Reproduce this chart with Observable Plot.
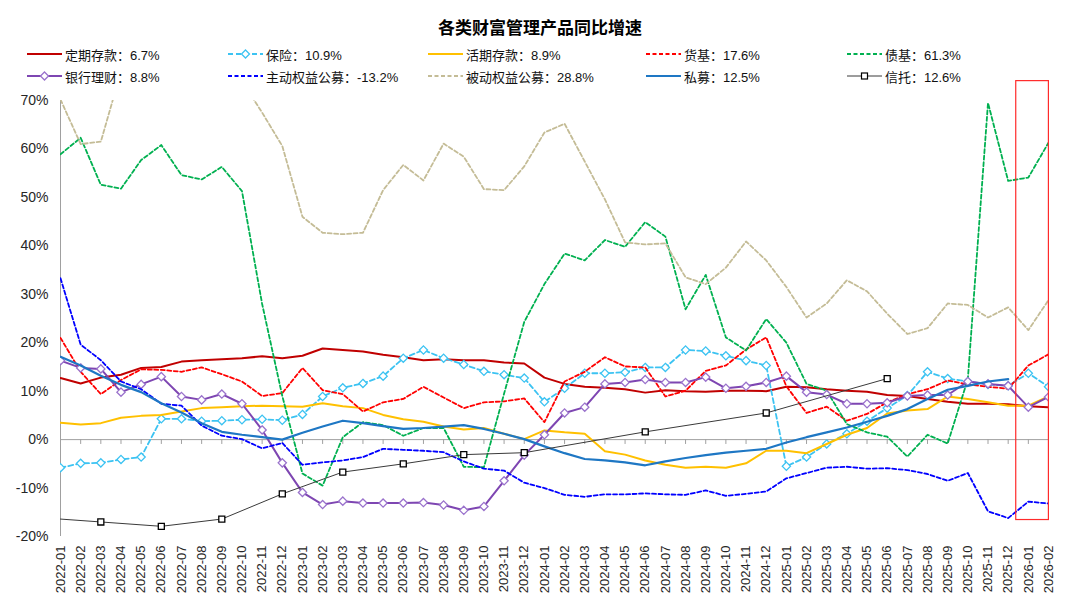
<!DOCTYPE html>
<html>
<head>
<meta charset="utf-8">
<script src="https://cdn.jsdelivr.net/npm/d3@7"></script>
<script src="https://cdn.jsdelivr.net/npm/@observablehq/plot@0.6"></script>
<style>
  body { margin: 0; background: #fff; font-family: "Liberation Sans", Arial, "Noto Sans CJK SC", sans-serif; }
  #wrap { position: relative; width: 1080px; height: 606px; overflow: hidden; background: #fff; }
  #title { position: absolute; left: 0; top: 18px; width: 1080px; text-align: center; font-size: 17px; font-weight: bold; color: #000; line-height: 22px; }
  #chart { position: absolute; left: 0; top: 70px; }
  #legend { position: absolute; left: 0; top: 0; width: 1080px; height: 90px; z-index: 2; }
  .li { position: absolute; height: 20px; display: flex; align-items: center; font-size: 13px; color: #111; white-space: nowrap; }
  .li svg { margin-right: 3px; }
</style>
</head>
<body>
<div id="wrap">
  <div id="title">各类财富管理产品同比增速</div>
  <div id="chart"></div>
  <div id="legend"></div>
</div>
<script>
// ---------- data ----------
const months = [
  "2022-01","2022-02","2022-03","2022-04","2022-05","2022-06","2022-07","2022-08","2022-09","2022-10","2022-11","2022-12",
  "2023-01","2023-02","2023-03","2023-04","2023-05","2023-06","2023-07","2023-08","2023-09","2023-10","2023-11","2023-12",
  "2024-01","2024-02","2024-03","2024-04","2024-05","2024-06","2024-07","2024-08","2024-09","2024-10","2024-11","2024-12",
  "2025-01","2025-02","2025-03","2025-04","2025-05","2025-06","2025-07","2025-08","2025-09","2025-10","2025-11","2025-12",
  "2026-01","2026-02"
];
const yTicks = [-20, -10, 0, 10, 20, 30, 40, 50, 60, 70];

const fixedDeposit = [12.7, 11.6, 12.8, 13.4, 14.8, 15.0, 16.1, 16.4, 16.6, 16.8, 17.2, 16.8,
  17.3, 18.8, 18.5, 18.2, 17.5, 17.0, 16.4, 16.6, 16.4, 16.4, 15.9, 15.7,
  12.8, 11.5, 10.9, 10.7, 10.4, 9.7, 10.2, 10.0, 9.9, 10.1, 10.1, 10.0,
  10.9, 10.8, 10.4, 10.1, 9.9, 9.2, 9.0, 8.4, 7.8, 7.4, 7.4, 7.3,
  6.9, 6.7];
const insurance = [-5.8, -4.9, -4.8, -4.1, -3.6, 4.3, 4.3, 3.8, 3.9, 4.1, 4.2, 4.0,
  5.2, 8.9, 10.7, 11.6, 13.1, 16.8, 18.5, 16.8, 15.5, 14.1, 13.4, 12.7,
  7.8, 10.6, 13.7, 13.7, 13.9, 14.9, 14.9, 18.5, 18.3, 17.3, 16.3, 15.3,
  -5.5, -3.6, -0.9, 1.2, 3.8, 6.5, 9.1, 14.0, 12.6, 12.0, 11.4, 11.1,
  13.7, 10.9];
const demandDeposit = [3.5, 3.1, 3.4, 4.5, 4.9, 5.1, 5.8, 6.5, 6.7, 6.9, 7.0, 6.9,
  6.8, 7.5, 6.9, 6.5, 5.1, 4.2, 3.7, 2.7, 2.1, 2.4, 1.2, 0.1,
  1.9, 1.5, 1.2, -2.4, -3.1, -4.3, -5.2, -5.8, -5.6, -5.8, -4.9, -2.3,
  -2.3, -2.8, -0.9, 1.0, 2.4, 5.4, 6.0, 6.3, 8.9, 8.4, 7.7, 7.0,
  7.0, 8.9];
const moneyFund = [21.0, 14.0, 9.4, 12.3, 14.5, 14.4, 14.0, 14.9, 13.5, 12.0, 9.0, 9.6,
  14.8, 10.2, 9.4, 5.8, 7.7, 8.4, 10.9, 8.7, 6.5, 7.7, 7.9, 8.5,
  3.6, 12.0, 14.0, 17.0, 15.1, 14.9, 8.9, 10.1, 14.2, 15.3, 18.6, 21.1,
  11.0, 5.5, 6.8, 3.9, 5.3, 7.7, 9.4, 10.4, 12.2, 11.4, 10.9, 10.5,
  15.3, 17.6];
const bondFund = [58.9, 62.3, 52.6, 51.8, 57.7, 60.8, 54.6, 53.7, 56.3, 51.3, 28.0, 9.0,
  -7.0, -9.5, 0.5, 3.6, 3.0, 0.8, 2.4, 2.4, -5.6, -5.7, 9.5, 24.3,
  32.1, 38.4, 37.0, 41.2, 39.8, 44.9, 41.9, 26.9, 34.0, 21.1, 18.4, 24.9,
  20.0, 11.5, 10.1, 3.2, 1.5, 0.6, -3.5, 1.0, -0.8, 12.5, 69.5, 53.4,
  54.1, 61.3];
const bankWealth = [16.3, 14.8, 14.6, 9.8, 11.4, 13.0, 8.9, 8.2, 9.4, 7.4, 2.0, -4.8,
  -10.9, -13.4, -12.7, -13.1, -13.1, -13.1, -13.0, -13.5, -14.6, -13.8, -8.5, -3.2,
  1.0, 5.5, 6.7, 11.5, 11.8, 12.4, 11.8, 11.8, 12.9, 10.6, 11.0, 11.8,
  13.1, 9.8, 9.3, 7.4, 7.4, 7.6, 9.0, 9.2, 9.2, 12.0, 11.5, 11.1,
  6.7, 8.8];
const activeEquity = [33.3, 19.6, 16.4, 12.0, 10.4, 7.4, 7.0, 2.9, 0.8, 0.1, -1.8, -0.7,
  -5.2, -4.7, -4.3, -3.6, -1.9, -2.1, -2.3, -2.6, -4.5, -6.0, -6.4, -8.9,
  -10.0, -11.4, -11.8, -11.3, -11.3, -11.1, -11.3, -11.4, -10.5, -11.6, -11.2, -10.7,
  -8.0, -6.9, -5.8, -5.6, -6.0, -5.9, -6.3, -7.1, -8.5, -6.9, -14.8, -16.2,
  -12.8, -13.2];
const passiveEquity = [70.2, 61.0, 61.5, 76.0, 82.0, 86.0, 88.0, 85.0, 80.0, 74.0, 67.5, 60.6,
  46.0, 42.7, 42.4, 42.7, 51.5, 56.7, 53.5, 61.1, 58.4, 51.7, 51.5, 56.4,
  63.4, 65.2, 57.4, 49.6, 40.7, 40.3, 40.5, 33.5, 32.1, 35.5, 40.9, 37.0,
  31.5, 25.2, 28.1, 32.9, 30.6, 26.0, 21.8, 23.0, 28.1, 27.8, 25.2, 27.3,
  22.6, 28.8];
const privateFund = [17.1, 15.3, 13.2, 11.3, 9.8, 7.5, 5.6, 3.4, 1.6, 1.0, 0.5, 0.0,
  1.4, 2.7, 3.9, 3.4, 2.8, 2.2, 2.4, 2.7, 3.0, 2.2, 1.2, 0.1,
  -1.4, -2.8, -4.0, -4.3, -4.7, -5.3, -4.5, -3.8, -3.2, -2.7, -2.3, -1.9,
  -0.6, 0.5, 1.5, 2.5, 3.7, 4.9, 6.3, 8.4, 10.3, 11.1, 12.0, 12.5,
  null, null];
const trust = [-16.4, null, -17.0, null, null, -17.9, null, null, -16.4, null, null, -11.2,
  null, null, -6.7, null, null, -5.0, null, null, -3.1, null, null, -2.7,
  null, null, null, null, null, 1.6, null, null, null, null, null, 5.5,
  null, null, null, null, null, 12.6, null, null, null, null, null, null,
  null, null];

const legendLabels = [
  "定期存款：6.7%", "保险：10.9%", "活期存款：8.9%", "货基：17.6%", "债基：61.3%",
  "银行理财：8.8%", "主动权益公募：-13.2%", "被动权益公募：28.8%", "私募：12.5%", "信托：12.6%"
];
const highlightBox = {start: "2026-01", end: "2026-02", low: -16.6, high: 74};

// ---------- styling ----------
const series = [
  {values: fixedDeposit,  stroke: "#C00000", width: 2,   dash: null,  marker: null},
  {values: insurance,     stroke: "#3CC3F2", width: 1.8, dash: "5,3", marker: "diamond2", mstroke: "#3CC3F2"},
  {values: demandDeposit, stroke: "#FFC000", width: 2,   dash: null,  marker: null},
  {values: moneyFund,     stroke: "#FF0000", width: 1.8, dash: "4,2.5", marker: null},
  {values: bondFund,      stroke: "#00B050", width: 1.8, dash: "4,2.5", marker: null},
  {values: bankWealth,    stroke: "#7E46B2", width: 2,   dash: null,  marker: "diamond2", mstroke: "#9A72CC"},
  {values: activeEquity,  stroke: "#0000FF", width: 1.8, dash: "4,2.5", marker: null},
  {values: passiveEquity, stroke: "#C4BC96", width: 1.8, dash: "4,2.5", marker: null},
  {values: privateFund,   stroke: "#1E77C4", width: 2.2, dash: null,  marker: null},
  {values: trust,         stroke: "#3A3A3A", width: 1,   dash: null,  marker: "square", mstroke: "#000000", skipFirstMarker: true}
];
const legendOrder = [0, 1, 2, 3, 4, 5, 6, 7, 8, 9];
const legendCols = [27, 228, 428, 646, 847];
const legendRows = [54, 76];

// ---------- chart ----------
const idx = months.map((m, i) => i);
const lineMarks = [];
series.forEach(s => {
  const pts = s.values.map((v, i) => ({i, v})).filter(d => d.v != null);
  lineMarks.push(Plot.line(pts, {
    x: "i", y: "v", stroke: s.stroke, strokeWidth: s.width,
    strokeDasharray: s.dash || undefined, clip: true, curve: "linear"
  }));
  if (s.marker) {
    const mp = s.skipFirstMarker ? pts.filter(d => d.i > 0) : pts;
    lineMarks.push(Plot.dot(mp, {
      x: "i", y: "v", symbol: s.marker, r: s.marker === "square" ? 3.4 : 3.7,
      fill: "white", stroke: s.mstroke, strokeWidth: 1.3, clip: true
    }));
  }
});

const hx1 = months.indexOf(highlightBox.start) - 0.6;
const hx2 = months.indexOf(highlightBox.end) + 0.02;

const chart = Plot.plot({
  width: 1080, height: 536,
  marginTop: 30, marginBottom: 70, marginLeft: 60, marginRight: 32,
  style: {background: "transparent", fontFamily: '"Liberation Sans", Arial, sans-serif', color: "#262626"},
  x: {type: "linear", domain: [0, months.length - 1], axis: null, label: null},
  y: {type: "linear", domain: [-20, 70], axis: null, label: null},
  marks: [
    Plot.ruleX([0], {y1: -20, y2: 70, stroke: "#A0A0A0", strokeWidth: 1}),
    Plot.ruleY([0], {x1: 0, x2: months.length - 1, stroke: "#A0A0A0", strokeWidth: 1}),
    Plot.ruleX(idx, {x: d => d, y1: 0, y2: -1.0, stroke: "#A0A0A0", strokeWidth: 1}),
    Plot.axisY({ticks: yTicks, tickFormat: d => d + "%", tickSize: 0, tickPadding: 12, fontSize: 14, fill: "#262626", label: null}),
    Plot.axisX({ticks: idx, tickFormat: i => months[i], tickRotate: -90, tickSize: 0, tickPadding: 9, fontSize: 13, fill: "#262626", anchor: "bottom", label: null}),
    ...lineMarks,
    Plot.rect([highlightBox], {x1: () => hx1, x2: () => hx2, y1: "low", y2: "high", fill: "none", stroke: "#FF2A2A", strokeWidth: 1.2})
  ]
});
document.getElementById("chart").appendChild(chart);

// ---------- legend ----------
const legend = document.getElementById("legend");
legendOrder.forEach((si, k) => {
  const s = series[si];
  const col = k % 5, row = Math.floor(k / 5);
  const div = document.createElement("div");
  div.className = "li";
  div.style.left = legendCols[col] + "px";
  div.style.top = (legendRows[row] - 10) + "px";
  let svg = `<svg width="35" height="12" viewBox="0 0 35 12"><line x1="0" y1="6" x2="35" y2="6" stroke="${s.stroke}" stroke-width="${s.width}" ${s.dash ? `stroke-dasharray="${s.dash}"` : ""}/>`;
  if (s.marker === "diamond2") {
    svg += `<path d="M17.5,2 L21.5,6 L17.5,10 L13.5,6 Z" fill="white" stroke="${s.mstroke}" stroke-width="1.3"/>`;
  } else if (s.marker === "square") {
    svg += `<rect x="14.5" y="3" width="6" height="6" fill="white" stroke="${s.mstroke}" stroke-width="1.2"/>`;
  }
  svg += `</svg>`;
  div.innerHTML = svg + `<span>${legendLabels[k]}</span>`;
  legend.appendChild(div);
});
</script>
</body>
</html>
